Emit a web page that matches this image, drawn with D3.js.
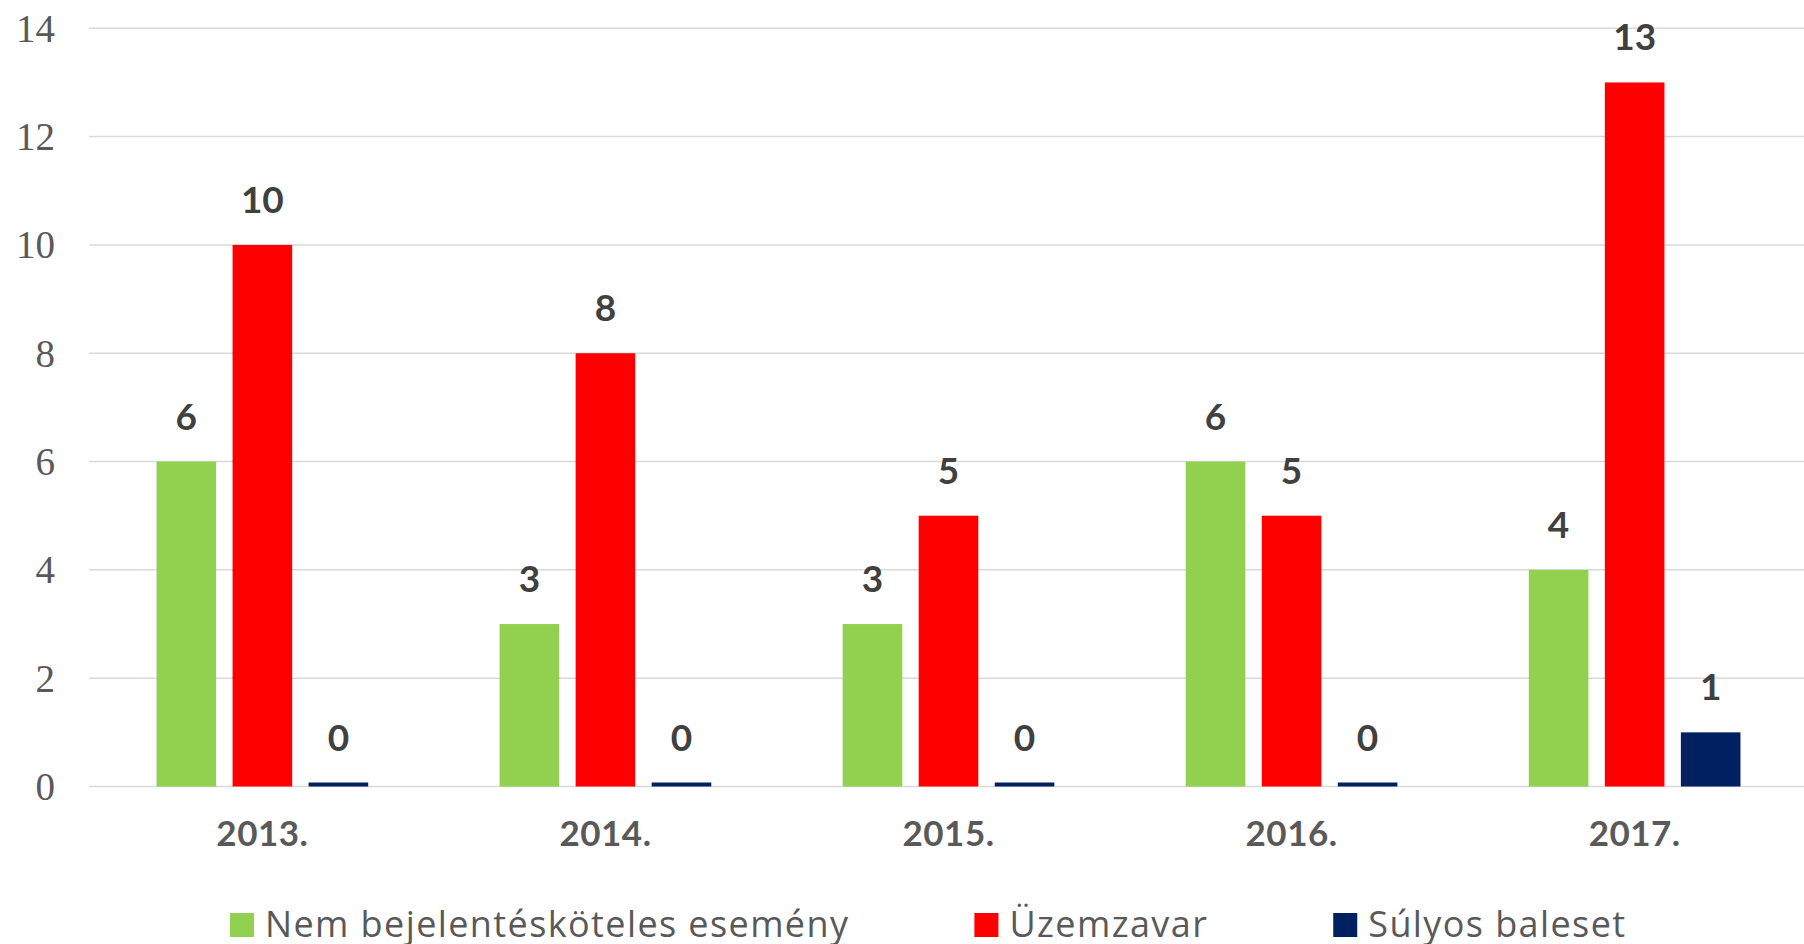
<!DOCTYPE html>
<html>
<head>
<meta charset="utf-8">
<script src="https://cdn.jsdelivr.net/npm/d3@7"></script>
<style>
  html, body { margin: 0; padding: 0; background: #ffffff; }
  svg { display: block; }
</style>
</head>
<body>
<svg id="chart" width="1804" height="944"></svg>
<script>
const categories = ["2013.", "2014.", "2015.", "2016.", "2017."];
const seriesNames = ["Nem bejelentésköteles esemény", "Üzemzavar", "Súlyos baleset"];
const nemBejelentes = [6, 3, 3, 6, 4];
const uzemzavar = [10, 8, 5, 5, 13];
const sulyosBaleset = [0, 0, 0, 0, 1];
const seriesColors = ["#92d050", "#ff0000", "#002060"];
const yTicks = [0, 2, 4, 6, 8, 10, 12, 14];

const seriesValues = [nemBejelentes, uzemzavar, sulyosBaleset];
const rows = categories.map((c, i) => ({ cat: c, vals: seriesValues.map(s => s[i]) }));

const svg = d3.select("#chart");
const W = 1804;

const x0 = d3.scaleBand().domain(categories).range([91, 1806]).paddingInner(0.383).paddingOuter(0.191);
const x1 = d3.scaleBand().domain(d3.range(3)).range([0, x0.bandwidth()]).paddingInner(0.216).paddingOuter(0);
const y = d3.scaleLinear().domain([0, 14]).range([786.5, 28.3]);

// gridlines
svg.append("g").selectAll("line").data(yTicks).join("line")
  .attr("x1", 89).attr("x2", W)
  .attr("y1", d => y(d)).attr("y2", d => y(d))
  .attr("stroke", "#d9d9d9").attr("stroke-width", 1.5);

// y axis labels
const yAxis = d3.axisLeft(y).tickValues(yTicks).tickSize(0).tickPadding(0);
const yg = svg.append("g").attr("transform", "translate(55,0)").call(yAxis);
yg.select(".domain").remove();
yg.selectAll("text")
  .attr("font-family", "'Liberation Serif', serif")
  .attr("font-size", 39)
  .attr("fill", "#595959")
  .attr("dy", "0.33em");

// x axis labels
const xAxis = d3.axisBottom(x0).tickSize(0).tickPadding(0);
const xg = svg.append("g").attr("transform", "translate(0,846)").call(xAxis);
xg.select(".domain").remove();
xg.selectAll("text")
  .attr("font-family", "Lato, sans-serif")
  .attr("font-weight", "bold")
  .attr("font-size", 35)
  .attr("fill", "#595959")
  .attr("letter-spacing", 0.5)
  .attr("dy", 0);

// bars
const groups = svg.append("g").selectAll("g").data(rows).join("g")
  .attr("transform", d => `translate(${x0(d.cat)},0)`);

const minH = 4;
groups.selectAll("rect").data(d => d.vals.map((v, k) => ({ v, k }))).join("rect")
  .attr("x", d => x1(d.k))
  .attr("width", x1.bandwidth())
  .attr("y", d => Math.min(y(d.v), y(0) - minH))
  .attr("height", d => Math.max(y(0) - y(d.v), minH))
  .attr("fill", d => seriesColors[d.k]);

groups.selectAll("text").data(d => d.vals.map((v, k) => ({ v, k }))).join("text")
  .attr("x", d => x1(d.k) + x1.bandwidth() / 2)
  .attr("y", d => Math.min(y(d.v), y(0) - minH) - 32)
  .attr("text-anchor", "middle")
  .attr("font-family", "Lato, sans-serif")
  .attr("font-weight", "bold")
  .attr("font-size", 37)
  .attr("fill", "#404040")
  .text(d => d.v);

// legend
const legend = svg.append("g").attr("transform", "translate(0,924)");
let lx = 230;
seriesNames.forEach((name, k) => {
  legend.append("rect").attr("x", lx).attr("y", -11).attr("width", 24).attr("height", 24)
    .attr("fill", seriesColors[k]);
  const t = legend.append("text").attr("x", lx + 35).attr("y", 0).attr("dy", "0.35em")
    .attr("font-family", "'Open Sans', sans-serif").attr("font-size", 36).attr("fill", "#595959")
    .attr("letter-spacing", 1.4)
    .text(name);
  lx += 35 + t.node().getComputedTextLength() + 125;
});
</script>
</body>
</html>
